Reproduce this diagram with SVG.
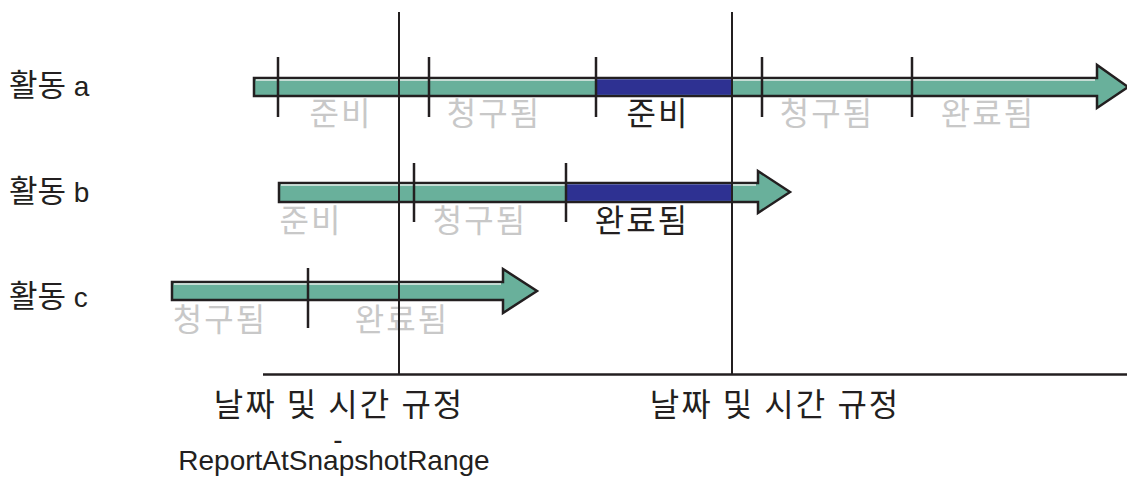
<svg xmlns="http://www.w3.org/2000/svg" width="1127" height="487" viewBox="0 0 1127 487">
<style>
.bar{fill:#69b09b;stroke:#231f20;stroke-width:2.5;stroke-linejoin:miter}
.hl{stroke:#e6ece9;stroke-width:1.5}
.blue{fill:#2e3192}
.tick{stroke:#231f20;stroke-width:2.5}
.ln{stroke:#231f20;stroke-width:2}
.t{font-family:"Noto Sans CJK KR","Liberation Sans",sans-serif;font-size:32px;letter-spacing:2px;text-anchor:middle}
.g{fill:#c8c8c8}
.k{fill:#231f20}
.lab{font-family:"Liberation Sans","Noto Sans CJK KR",sans-serif;font-size:28px;fill:#231f20}
.ko{font-family:"Noto Sans CJK KR",sans-serif;font-size:31px}
</style>
<rect width="1127" height="487" fill="#fff"/>
<g id="row-a">
<text class="lab" x="9" y="96"><tspan class="ko">활동</tspan> a</text>
<polygon class="bar" points="254,78 1097,78 1097,65 1128,87 1097,108 1097,96 254,96"/>
<line class="hl" x1="256" y1="80" x2="1095" y2="80"/>
<rect class="blue" x="596" y="79.3" width="136" height="15.5"/>
<line class="tick" x1="278" y1="57" x2="278" y2="117"/>
<line class="tick" x1="429" y1="57" x2="429" y2="117"/>
<line class="tick" x1="596" y1="57" x2="596" y2="117"/>
<line class="tick" x1="762" y1="57" x2="762" y2="117"/>
<line class="tick" x1="912" y1="57" x2="912" y2="117"/>
<text class="t g" x="341" y="125">준비</text>
<text class="t g" x="494" y="125">청구됨</text>
<text class="t k" x="658" y="125">준비</text>
<text class="t g" x="827" y="125">청구됨</text>
<text class="t g" x="988" y="125">완료됨</text>
</g>
<g id="row-b">
<text class="lab" x="9" y="202"><tspan class="ko">활동</tspan> b</text>
<polygon class="bar" points="279,183 758,183 758,171 790,192 758,213 758,202 279,202"/>
<line class="hl" x1="281" y1="185" x2="756" y2="185"/>
<rect class="blue" x="566" y="184.3" width="166" height="16.5"/>
<line class="tick" x1="414" y1="163" x2="414" y2="222"/>
<line class="tick" x1="566" y1="163" x2="566" y2="222"/>
<text class="t g" x="311" y="232">준비</text>
<text class="t g" x="480" y="232">청구됨</text>
<text class="t k" x="642" y="232">완료됨</text>
</g>
<g id="row-c">
<text class="lab" x="9" y="307"><tspan class="ko">활동</tspan> c</text>
<polygon class="bar" points="172,282 503,282 503,269 537,291 503,313 503,300 172,300"/>
<line class="hl" x1="174" y1="284" x2="501" y2="284"/>
<line class="tick" x1="308" y1="268" x2="308" y2="328"/>
<text class="t g" x="220" y="331">청구됨</text>
<text class="t g" x="402" y="331">완료됨</text>
</g>
<g id="connectors">
<line class="ln" x1="399" y1="12" x2="399" y2="375"/>
<line class="ln" x1="732" y1="12" x2="732" y2="375"/>
<line class="tick" x1="263" y1="374.5" x2="1127" y2="374.5"/>
</g>
<g id="time-labels">
<text class="t k" x="339" y="416" word-spacing="1">날짜 및 시간 규정</text>
<text class="t k" x="775" y="416" word-spacing="1">날짜 및 시간 규정</text>
<text class="lab" x="338" y="449" text-anchor="middle" font-size="24">-</text>
<text class="lab" x="334" y="470" text-anchor="middle">ReportAtSnapshotRange</text>
</g>
</svg>
